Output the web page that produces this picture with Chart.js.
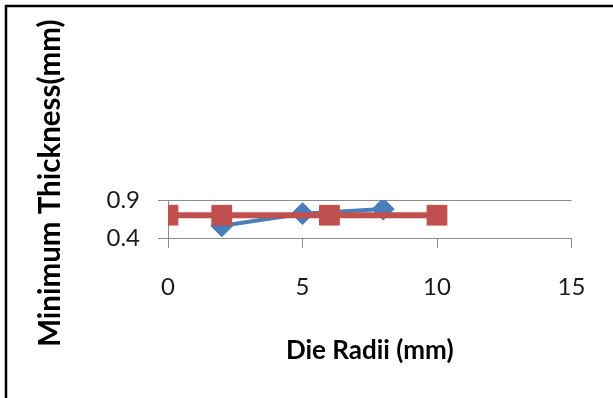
<!DOCTYPE html>
<html>
<head>
<meta charset="utf-8">
<script src="https://cdn.jsdelivr.net/npm/chart.js@4"></script>
<style>
  html, body { margin: 0; padding: 0; background: #ffffff; }
  #wrap { position: relative; width: 613px; height: 398px; }
  canvas { display: block; }
</style>
</head>
<body>
<div id="wrap"><canvas id="c" width="613" height="398"></canvas></div>
<script>
// ---- data ----
const blueRadii = [2, 5, 8];
const blueThickness = [0.56, 0.72, 0.78];
const redRadii = [0, 2, 6, 10];
const redThickness = [0.7, 0.7, 0.7, 0.7];
const xTicks = [0, 5, 10, 15];
const yTicks = [0.4, 0.9];
const xTitle = 'Die Radii (mm)';
const yTitle = 'Minimum Thickness(mm)';

const toPoints = (xs, ys) => xs.map((x, i) => ({ x: x, y: ys[i] }));

const frame = {
  id: 'frame',
  afterDraw(chart) {
    const ctx = chart.ctx;
    ctx.save();
    ctx.strokeStyle = '#000';
    ctx.lineWidth = 2.5;
    ctx.beginPath();
    ctx.moveTo(6, 398);
    ctx.lineTo(6, 6);
    ctx.lineTo(613, 6);
    ctx.stroke();
    ctx.restore();
  }
};

const gridGray = '#8c8c8c';
const tickFont = { family: 'Lato', size: 24 };

new Chart(document.getElementById('c'), {
  type: 'scatter',
  data: {
    datasets: [
      {
        label: 'Series 2',
        data: toPoints(redRadii, redThickness),
        showLine: true,
        borderColor: '#C0504D',
        backgroundColor: '#C0504D',
        borderWidth: 6,
        pointStyle: 'rect',
        pointRadius: 14,
        pointBorderWidth: 1,
        order: 0
      },
      {
        label: 'Series 1',
        data: toPoints(blueRadii, blueThickness),
        showLine: true,
        borderColor: '#4A7EBB',
        backgroundColor: '#4A7EBB',
        borderWidth: 4,
        pointStyle: 'rectRot',
        pointRadius: 11,
        pointBorderWidth: 1,
        order: 1
      }
    ]
  },
  options: {
    responsive: false,
    devicePixelRatio: 1,
    animation: false,
    layout: { padding: { top: 200, right: 41.5, left: 0, bottom: 0 } },
    plugins: { legend: { display: false }, tooltip: { enabled: false } },
    scales: {
      x: {
        type: 'linear',
        min: xTicks[0],
        max: xTicks[xTicks.length - 1],
        afterBuildTicks: (s) => { s.ticks = xTicks.map(v => ({ value: v })); },
        afterFit: (s) => { s.height = 160; },
        grid: { drawOnChartArea: false, drawTicks: true, tickLength: 10, color: gridGray },
        border: { color: gridGray, width: 1 },
        ticks: { font: tickFont, color: '#1a1a1a', padding: 25, maxRotation: 0 },
        title: {
          display: true,
          text: xTitle,
          color: '#000',
          font: { family: 'Lato', size: 26, weight: 'bold' },
          padding: { top: 0, bottom: 32 }
        }
      },
      y: {
        type: 'linear',
        min: yTicks[0],
        max: yTicks[yTicks.length - 1],
        afterBuildTicks: (s) => { s.ticks = yTicks.map(v => ({ value: v })); },
        afterFit: (s) => { s.width = 168; },
        grid: { drawOnChartArea: true, drawTicks: true, tickLength: 10, color: gridGray },
        border: { color: gridGray, width: 1 },
        ticks: { font: tickFont, color: '#1a1a1a', padding: 18, callback: (v) => v.toFixed(1) },
        title: {
          display: true,
          text: '          ' + yTitle,
          color: '#000',
          font: { family: 'Lato', size: 29.5, weight: 'bold' },
          padding: { top: 33, bottom: 0 }
        }
      }
    }
  },
  plugins: [frame]
});
</script>
</body>
</html>
